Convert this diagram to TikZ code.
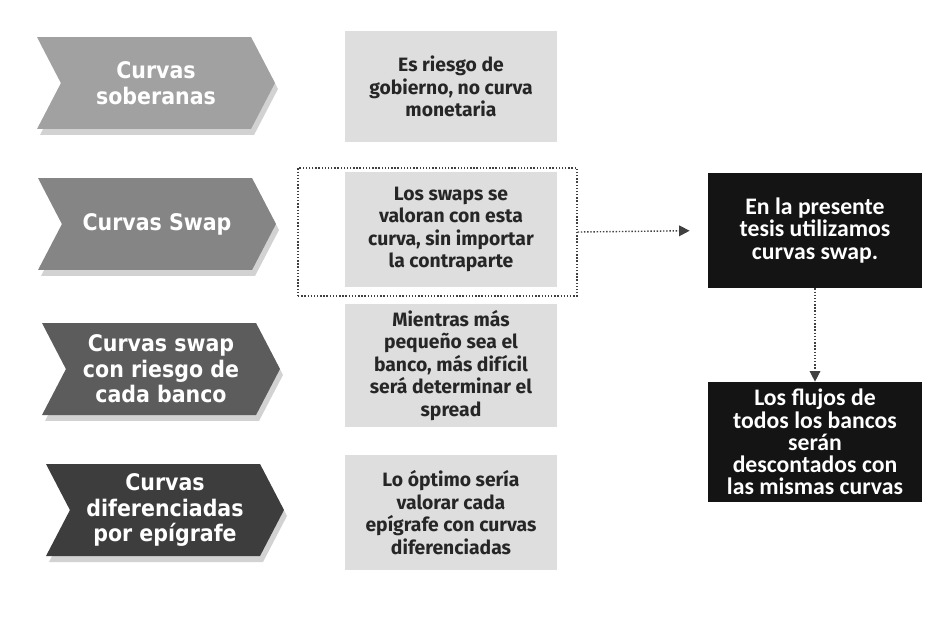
\documentclass[tikz,border=0pt]{standalone}
\usepackage{fontspec}
\setmainfont{Fira Sans}
\newfontfamily\chevfont{DejaVu Sans Condensed}
\newfontfamily\negrofont{Carlito}
\usetikzlibrary{shapes.symbols,shadows,arrows.meta}
\definecolor{griscurva}{gray}{0.63}
\definecolor{grisswap}{gray}{0.52}
\definecolor{grisbanco}{gray}{0.36}
\definecolor{grisepi}{gray}{0.24}
\definecolor{grisclaro}{gray}{0.87}
\definecolor{negro}{gray}{0.08}
\tikzset{
	flecha/.style={signal, signal to=east, signal from=west, signal pointer angle=125, minimum width=4.76cm, minimum height=1.84cm, inner sep=0pt, text=white, align=center, font=\chevfont\bfseries\fontsize{13}{14.5}\selectfont, drop shadow={opacity=0.35, shadow xshift=0.06cm, shadow yshift=-0.12cm}},
	caja/.style={rectangle, fill=grisclaro, minimum width=4.24cm, minimum height=2.3cm, align=center, text=black!85, font=\bfseries\fontsize{11}{12.8}\selectfont},
	negra/.style={rectangle, fill=negro, minimum width=4.28cm, align=center, text=white, font=\negrofont\bfseries\fontsize{13.5}{12.6}\selectfont},
	punteada/.style={densely dotted, thick, draw=black!75, -{Triangle[length=6pt,width=6pt]}}
}
\begin{document}
\begin{tikzpicture}[x=0.02cm,y=-0.02cm]
	\useasboundingbox[fill=white] (0,0) rectangle (934,620);
	
	\node[flecha, fill=griscurva] (soberanas) at (156,83) {Curvas\\soberanas};
	\node[flecha, fill=grisswap] (swap) at (157,224) {Curvas Swap};
	\node[flecha, fill=grisbanco] (banco) at (161,369) {Curvas swap\\con riesgo de\\cada banco};
	\node[flecha, fill=grisepi] (epigrafe) at (165,510) {Curvas\\diferenciadas\\por epígrafe};
	
	\node[draw=black!75, densely dotted, thick, minimum width=5.58cm, minimum height=2.56cm] (marco) at (437.5,232) {};
	
	\node[caja, minimum height=2.22cm] (gobierno) at (451,86.5) {Es riesgo de\\gobierno, no curva\\monetaria};
	\node[caja] (valoran) at (451,229.5) {Los swaps se\\valoran con esta\\curva, sin importar\\la contraparte};
	\node[caja] (spread) at (451,365.5) {Mientras más\\pequeño sea el\\banco, más difícil\\será determinar el\\spread};
	\node[caja] (optimo) at (451,512.5) {Lo óptimo sería\\valorar cada\\epígrafe con curvas\\diferenciadas};
	
	\node[negra, minimum height=2.3cm] (tesis) at (815,230.5) {En la presente\\tesis utilizamos\\curvas swap.};
	\node[negra, minimum height=2.4cm] (flujos) at (815,442) {Los flujos de\\todos los bancos\\serán\\descontados con\\las mismas curvas};
	
	\draw[punteada, shorten >=0.36cm] (marco.east) -- (tesis.west);
	\draw[punteada] (tesis.south) -- (flujos.north);
\end{tikzpicture}
\end{document}
